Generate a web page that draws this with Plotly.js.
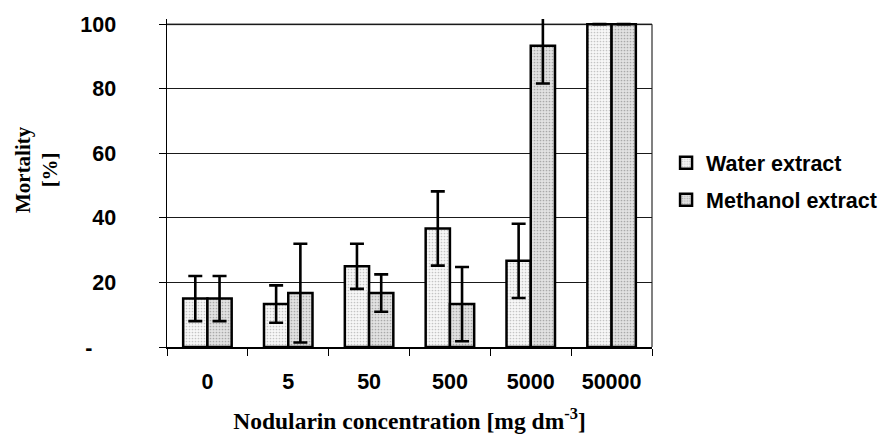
<!DOCTYPE html>
<html>
<head>
<meta charset="utf-8">
<script src="https://cdn.plot.ly/plotly-3.0.1.min.js"></script>
<style>html,body{margin:0;padding:0;background:#fff;}#chart{width:883px;height:434px;}</style>
</head>
<body>
<div id="chart"></div>
<script>
// Data
const categories = ['0', '5', '50', '500', '5000', '50000'];
const waterValues = [15, 13.3, 25, 36.7, 26.7, 100];
const waterErrors = [7, 5.8, 7, 11.5, 11.5, null];
const methanolValues = [15, 16.7, 16.7, 13.3, 93.3, 100];
const methanolErrors = [7, 15.3, 5.8, 11.5, 11.7, null];
const yTickValues = [0, 20, 40, 60, 80, 100];
const yTickLabels = ['-\u00a0\u00a0\u00a0\u00a0', '20', '40', '60', '80', '100'];
const yTitle = 'Mortality<br>[%]';
const xTitle = 'Nodularin concentration [mg dm<sup>-3</sup>]';

const sans = 'Arial, "Liberation Sans", sans-serif';
const serif = '"Times New Roman", "Liberation Serif", serif';

const errStyle = {type: 'data', visible: true, thickness: 2.6, width: 7, color: '#000'};

const traces = [
  {
    type: 'bar', name: 'Water extract', x: categories, y: waterValues,
    legendgroup: 'w',
    marker: {color: '#f2f2f2', line: {color: '#000', width: 2.5},
      pattern: {shape: '.', bgcolor: '#f7f7f7', fgcolor: '#c4c4c4', size: 3, solidity: 0.25}},
    error_y: Object.assign({array: waterErrors}, errStyle),
    hoverinfo: 'none'
  },
  {
    type: 'bar', name: 'Methanol extract', x: categories, y: methanolValues,
    legendgroup: 'm',
    marker: {color: '#dcdcdc', line: {color: '#000', width: 2.5},
      pattern: {shape: '.', bgcolor: '#e2e2e2', fgcolor: '#a9a9a9', size: 3, solidity: 0.25}},
    error_y: Object.assign({array: methanolErrors}, errStyle),
    hoverinfo: 'none'
  }
];

const layout = {
  width: 883, height: 434,
  margin: {l: 167, r: 231, t: 19, b: 87, pad: 0, autoexpand: false},
  paper_bgcolor: '#fff', plot_bgcolor: '#fff',
  barmode: 'group', bargap: 0.4, bargroupgap: 0,
  showlegend: true,
  legend: {
    x: 1.029, xanchor: 'left', y: 0.505, yanchor: 'middle',
    font: {family: sans, size: 21.5, color: '#000', weight: 'bold'},
    traceorder: 'grouped', tracegroupgap: 6,
    bgcolor: 'rgba(0,0,0,0)', borderwidth: 0
  },
  xaxis: {
    type: 'category', automargin: false,
    showline: true, linecolor: '#000', linewidth: 1.5,
    ticks: 'outside', tickson: 'boundaries', ticklen: 7, tickwidth: 1, tickcolor: '#000',
    showgrid: false, zeroline: false,
    tickfont: {family: sans, size: 21.5, color: '#000', weight: 'bold'},
    ticklabelstandoff: 15,
    title: {text: xTitle, standoff: 20,
      font: {family: serif, size: 23.5, color: '#000', weight: 'bold'}}
  },
  yaxis: {
    range: [0, 101.6], fixedrange: true, automargin: false,
    tickmode: 'array', tickvals: yTickValues, ticktext: yTickLabels,
    showline: true, linecolor: '#000', linewidth: 1.5,
    ticks: 'outside', ticklen: 7, tickwidth: 1, tickcolor: '#000',
    showgrid: true, gridcolor: '#1a1a1a', gridwidth: 1, zeroline: false,
    tickfont: {family: sans, size: 21.5, color: '#000', weight: 'bold'},
    ticklabelstandoff: 38
  },
  annotations: [
    {text: yTitle, xref: 'paper', yref: 'paper', x: -0.2701, y: 0.5396,
      xanchor: 'center', yanchor: 'middle', textangle: -90, showarrow: false,
      align: 'center',
      font: {family: serif, size: 21, color: '#000', weight: 'bold'}}
  ],
  shapes: [
    {type: 'line', xref: 'paper', yref: 'y', x0: 0, x1: 1, y0: 100, y1: 100,
      line: {color: '#808080', width: 2}, layer: 'below'},
    {type: 'line', xref: 'paper', yref: 'y', x0: 1, x1: 1, y0: 0, y1: 100,
      line: {color: '#808080', width: 2}, layer: 'below'}
  ]
};

Plotly.newPlot('chart', traces, layout, {staticPlot: true, displayModeBar: false});
</script>
</body>
</html>
